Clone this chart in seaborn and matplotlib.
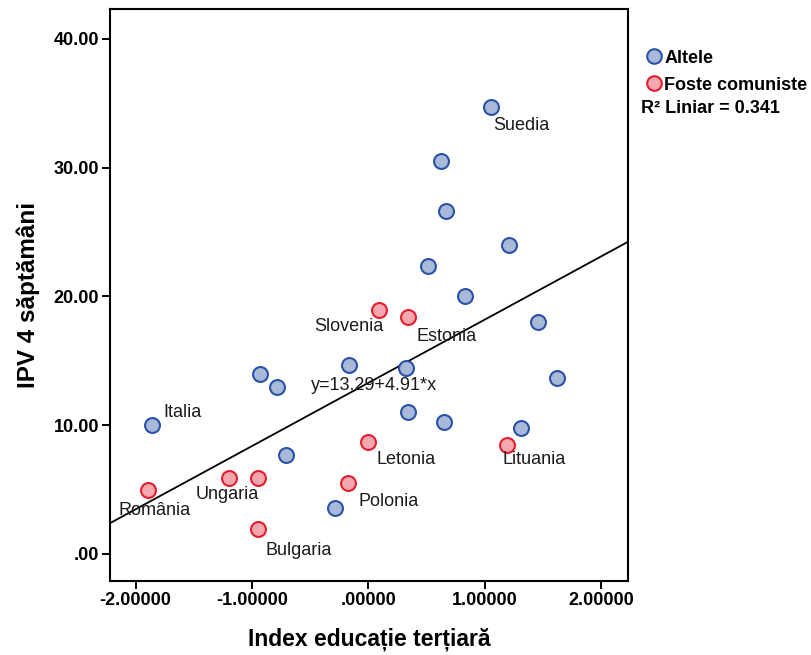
import matplotlib
matplotlib.use('Agg')
import matplotlib.pyplot as plt
from matplotlib.lines import Line2D
import pandas as pd
import seaborn as sns

# Altele (blue)
x_altele = [1.049, 0.627, 0.667, 1.209, 0.511, 0.831, 1.458, -0.164, 0.320,
            -0.929, -0.787, 1.622, 0.342, 0.649, 1.311, -1.862, -0.707, -0.289]
y_altele = [34.73, 30.51, 26.63, 24.00, 22.32, 20.02, 17.98, 14.67, 14.45,
            13.96, 12.96, 13.67, 11.05, 10.24, 9.75, 9.98, 7.71, 3.60]
# Foste comuniste (red)
x_comuniste = [0.093, 0.342, 0.000, 1.191, -1.200, -0.947, -0.178, -1.893, -0.947]
y_comuniste = [18.95, 18.43, 8.68, 8.45, 5.90, 5.90, 5.51, 4.96, 1.91]

grupe = ['Altele', 'Foste comuniste']
intercept = 13.29
panta = 4.91
r2 = 0.341

# country names and where their labels sit (data coords)
tari = ['Suedia', 'Slovenia', 'Estonia', 'Italia', 'Letonia', 'Lituania',
        'Ungaria', 'Polonia', 'România', 'Bulgaria']
label_pos = [(1.31, 33.3), (-0.17, 17.65), (0.67, 16.9), (-1.60, 11.0),
             (0.32, 7.3), (1.42, 7.3), (-1.21, 4.6), (0.17, 4.08),
             (-1.84, 3.34), (-0.60, 0.29)]

df = pd.DataFrame({
    'x': x_altele + x_comuniste,
    'y': y_altele + y_comuniste,
    'grup': [grupe[0]] * len(x_altele) + [grupe[1]] * len(x_comuniste),
})

sns.set_style('white')
plt.rcParams['font.family'] = ['Liberation Sans', 'DejaVu Sans']
plt.rcParams['text.color'] = 'black'
plt.rcParams['axes.labelcolor'] = 'black'
plt.rcParams['xtick.color'] = 'black'
plt.rcParams['ytick.color'] = 'black'

fig = plt.figure(figsize=(8.12, 6.55), dpi=100)
ax = fig.add_axes([0.1355, 0.113, 0.638, 0.873])

culori = {'Altele': ('#a9b9d9', '#2a52a6'), 'Foste comuniste': ('#f4a7ae', '#e31d2d')}
for g in grupe:
    sub = df[df.grup == g]
    sns.scatterplot(data=sub, x='x', y='y', ax=ax, s=115,
                    color=culori[g][0], edgecolor=culori[g][1], linewidth=1.5,
                    legend=False, zorder=3)

ax.axline((0, intercept), slope=panta, color='black', lw=1.3, zorder=2)

ax.set_xlim(-2.22, 2.23)
ax.set_ylim(-2.1, 42.3)
ax.set_xticks([-2, -1, 0, 1, 2])
ax.set_xticklabels(['-2.00000', '-1.00000', '.00000', '1.00000', '2.00000'])
ax.set_yticks([0, 10, 20, 30, 40])
ax.set_yticklabels(['.00', '10.00', '20.00', '30.00', '40.00'])
ax.tick_params(axis='both', length=6, width=1.4, direction='out', labelsize=13,
               bottom=True, left=True, pad=2)
for lbl in ax.get_xticklabels() + ax.get_yticklabels():
    lbl.set_fontweight('bold')
for sp in ax.spines.values():
    sp.set_color('black')
    sp.set_linewidth(1.5)

ax.set_xlabel('Index educație terțiară', fontsize=16.5, fontweight='bold', labelpad=13)
ax.set_ylabel('IPV 4 săptămâni', fontsize=17.5, fontweight='bold', labelpad=10)

for nume, (lx, ly) in zip(tari, label_pos):
    ax.text(lx, ly, nume, fontsize=13, ha='center', va='center', color='#1a1a1a')

ax.text(0.044, 13.1, f'y={intercept:.2f}+{panta:.2f}*x', fontsize=13,
        ha='center', va='center', color='#1a1a1a')

handles = [Line2D([], [], marker='o', ls='', markersize=10.5, markeredgewidth=1.5,
                  markerfacecolor=culori[g][0], markeredgecolor=culori[g][1])
           for g in grupe]
leg = fig.legend(handles, grupe, loc='upper left', bbox_to_anchor=(0.786, 0.935),
                 frameon=False, handletextpad=0.05, handlelength=1.0,
                 borderaxespad=0, labelspacing=0.55,
                 prop={'weight': 'bold', 'size': 13})
fig.text(0.790, 0.835, f'R² Liniar = {r2}', fontsize=13, fontweight='bold',
         ha='left', va='center')

fig.savefig('out.png', dpi=100)
